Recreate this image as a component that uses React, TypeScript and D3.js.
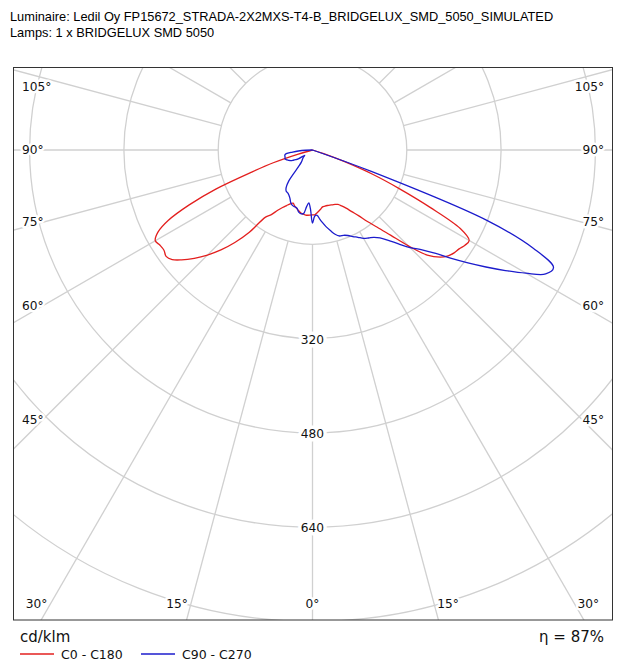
import React from "react";
import * as d3 from "d3";

// ---------- data ----------
const TITLE_LINES = [
  "Luminaire: Ledil Oy FP15672_STRADA-2X2MXS-T4-B_BRIDGELUX_SMD_5050_SIMULATED",
  "Lamps: 1 x BRIDGELUX SMD 5050",
];

// gamma angles (deg from nadir) at which intensities were read
const GAMMA = [0, 2, 4, 6, 8, 10, 12.5, 15, 17.5, 20, 22.5, 25, 27.5, 30, 32.5, 35, 37.5, 40, 42.5, 45, 47.5, 50,
  52, 54, 56, 58, 60, 62, 64, 66, 68, 70, 72, 74, 76, 78, 80, 82, 84, 86, 88, 90];

// cd/klm, C0 half-plane (right, red)
const C0 = [110, 110, 107, 104, 101, 98, 97.5, 97.5, 98, 99, 100, 102, 107, 114, 124, 136, 153, 171, 196, 230, 264, 283,
  292, 297, 300, 305, 307, 284, 222, 161, 110, 58, 20, 0, 0, 0, 0, 0, 0, 0, 0, 0];
// C180 half-plane (left, red)
const C180 = [110, 110.5, 111, 111, 110, 109, 106, 103, 100, 96, 99, 104, 110, 118, 130, 139, 176, 205, 230, 252, 272, 290,
  302, 307, 304, 305, 308, 297, 272, 229, 177, 111, 70, 25, 0, 0, 0, 0, 0, 0, 0, 0];
// C90 half-plane (right, blue)
const C90 = [124, 112, 111, 118, 125, 132, 140, 148, 153, 154, 157, 162, 167, 173, 177, 181, 188, 200, 216, 234, 250, 273,
  299, 326, 355, 386, 418, 448, 455, 410, 320, 105, 0, 0, 0, 0, 0, 0, 0, 0, 0, 0];
// C270 half-plane (left, blue)
const C270 = [124, 100, 90, 97, 109, 110, 108, 102, 101, 100, 96.5, 90.5, 86.5, 84, 83, 78, 66, 37, 28, 25, 23, 21,
  19, 17, 16, 28.5, 33, 37, 41, 43.5, 45.5, 47.5, 49, 48.5, 48, 48, 47.5, 45, 34, 24, 12, 0];

const RING_VALUES = [160, 320, 480, 640, 800, 960];
const RING_LABELS = [320, 480, 640];
const SPOKE_ANGLES = [-180, -165, -150, -135, -120, -105, -90, -75, -60, -45, -30, -15, 0, 15, 30, 45, 60, 75, 90, 105, 120, 135, 150, 165];
const ANGLE_LABELS = [-105, -90, -75, -60, -45, -30, -15, 0, 15, 30, 45, 60, 75, 90, 105];
const SERIES_NAMES = ["C0 - C180", "C90 - C270"];
const SERIES_COLORS = ["#e3201f", "#1c1ccc"];
const UNIT_LABEL = "cd/klm";
const EFFICIENCY_LABEL = "η = 87%";

// ---------- layout ----------
const W = 622;
const H = 672;
const CX = 312.5;
const CY = 150;
const BOX = { x0: 13.5, y0: 67.5, x1: 612.5, y1: 620 };
const GRID = "#d0d0d0";
const TICK_FONT = "'DejaVu Sans', Verdana, sans-serif";

const rScale = d3.scaleLinear().domain([0, 160]).range([0, 94.3]);
const rad = (deg: number) => (deg * Math.PI) / 180;

function toXY(g: number, v: number): [number, number] {
  const r = rScale(v);
  return [CX + r * Math.sin(rad(g)), CY + r * Math.cos(rad(g))];
}

function planePath(left: number[], right: number[]) {
  const pts: [number, number][] = [];
  for (let i = GAMMA.length - 1; i >= 0; i--) pts.push(toXY(-GAMMA[i], left[i]));
  for (let i = 1; i < GAMMA.length; i++) pts.push(toXY(GAMMA[i], right[i]));
  const clean = pts.filter((p, i) => i === 0 || Math.hypot(p[0] - pts[i - 1][0], p[1] - pts[i - 1][1]) > 1e-6);
  return d3.line().curve(d3.curveCatmullRom.alpha(0.5))(clean) || "";
}

function angleLabel(a: number, fs: number) {
  const text = `${Math.abs(a)}°`;
  const width = ((text.length - 1) * 0.636 + 0.5) * fs;
  if (a === 0) return { text, x: CX, y: 604, anchor: "middle" };
  const s = Math.sin(rad(a));
  const c = Math.cos(rad(a));
  const edgeX = a < 0 ? 43 : 582;
  const t = Math.abs((edgeX - CX) / s);
  let y = CY + t * c;
  if (y <= 604) {
    y = Math.max(y, 87);
    return { text, x: a < 0 ? 22 : 604, y, anchor: a < 0 ? "start" : "end" };
  }
  const t2 = (604 - CY) / c;
  let x = CX + t2 * s + (a < 0 ? -3 : 3);
  if (a < 0) x = Math.max(x, 22 + width);
  else x = Math.min(x, 604 - width);
  return { text, x, y: 604, anchor: a < 0 ? "end" : "start" };
}

export default function App() {
  const fs = 12.2;
  const redPath = planePath(C180, C0);
  const bluePath = planePath(C270, C90);
  const inner = rScale(RING_VALUES[0]);
  return (
    <svg width={W} height={H} style={{ position: "absolute", left: 0, top: 0, background: "#fff" }}>
      <defs>
        <clipPath id="plotClip">
          <rect x={BOX.x0} y={BOX.y0} width={BOX.x1 - BOX.x0} height={BOX.y1 - BOX.y0} />
        </clipPath>
      </defs>
      <rect width={W} height={H} fill="#fff" />
      {TITLE_LINES.map((t, i) => (
        <text key={i} x={10} y={20.5 + i * 16} fontFamily="'Liberation Sans', Arial, sans-serif" fontSize={12.8} fill="#000">
          {t}
        </text>
      ))}
      <g clipPath="url(#plotClip)">
        {RING_VALUES.map((v) => (
          <circle key={v} cx={CX} cy={CY} r={rScale(v)} fill="none" stroke={GRID} strokeWidth={1.3} />
        ))}
        {SPOKE_ANGLES.map((a) => {
          const s = Math.sin(rad(a));
          const c = Math.cos(rad(a));
          return (
            <line key={a} x1={CX + inner * s} y1={CY + inner * c} x2={CX + 900 * s} y2={CY + 900 * c} stroke={GRID} strokeWidth={1.3} />
          );
        })}
        {RING_LABELS.map((v) => (
          <text key={v} x={CX} y={CY + rScale(v) + 1} textAnchor="middle" dominantBaseline="central" fontFamily={TICK_FONT}
            fontSize={fs} fill="#111" stroke="#fff" strokeWidth={7} strokeLinejoin="round" style={{ paintOrder: "stroke" }}>
            {v}
          </text>
        ))}
        {ANGLE_LABELS.map((a) => {
          const l = angleLabel(a, fs);
          return (
            <text key={a} x={l.x} y={l.y} textAnchor={l.anchor as any} dominantBaseline="central" fontFamily={TICK_FONT}
              fontSize={fs} fill="#111" stroke="#fff" strokeWidth={5} strokeLinejoin="round" style={{ paintOrder: "stroke" }}>
              {l.text}
            </text>
          );
        })}
        <path d={redPath} fill="none" stroke={SERIES_COLORS[0]} strokeWidth={1.3} strokeLinejoin="round" />
        <path d={bluePath} fill="none" stroke={SERIES_COLORS[1]} strokeWidth={1.3} strokeLinejoin="round" />
      </g>
      <rect x={BOX.x0} y={BOX.y0} width={BOX.x1 - BOX.x0} height={BOX.y1 - BOX.y0} fill="none" stroke="#333" strokeWidth={1} />
      <text x={20} y={642} fontFamily={TICK_FONT} fontSize={15} fill="#111">{UNIT_LABEL}</text>
      <text x={604} y={642} textAnchor="end" fontFamily={TICK_FONT} fontSize={15} fill="#111">{EFFICIENCY_LABEL}</text>
      {SERIES_NAMES.map((n, i) => {
        const x0 = i === 0 ? 20 : 141;
        return (
          <g key={n}>
            <line x1={x0} x2={x0 + 34} y1={654} y2={654} stroke={SERIES_COLORS[i]} strokeWidth={1.5} />
            <text x={x0 + 41} y={659} fontFamily={TICK_FONT} fontSize={12.5} fill="#111">{n}</text>
          </g>
        );
      })}
    </svg>
  );
}
